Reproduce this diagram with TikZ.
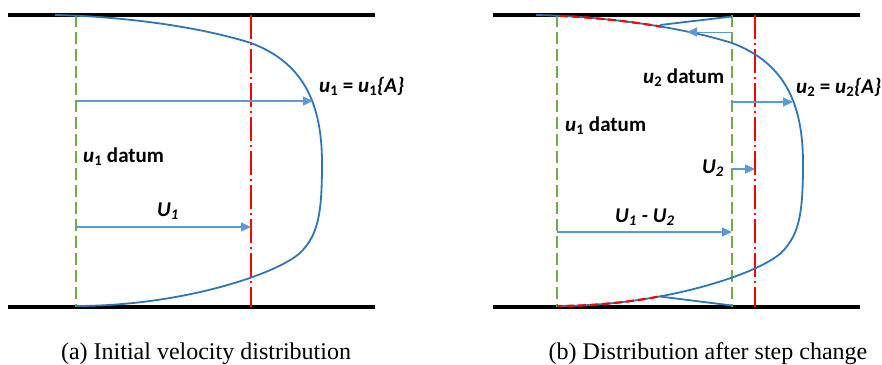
\documentclass[tikz,border=0pt]{standalone}
\usepackage{fontspec}
\setmainfont{Liberation Serif}
\newfontfamily\calibri{Carlito}
\usetikzlibrary{arrows.meta}
\definecolor{curveblue}{RGB}{46,117,182}
\definecolor{arrowblue}{RGB}{91,155,213}
\definecolor{datumgreen}{RGB}{112,173,71}
\definecolor{meanred}{RGB}{255,0,0}
\definecolor{inkdark}{RGB}{0,0,0}

\begin{document}
\begin{tikzpicture}[x=1pt,y=-1pt,
      wall/.style={draw=inkdark,line width=3.8pt},
      datum/.style={draw=datumgreen,line width=1.3pt,dash pattern=on 12pt off 5pt},
      mean/.style={draw=meanred,line width=1.8pt,dash pattern=on 24pt off 4pt on 2pt off 4pt},
      prof/.style={draw=curveblue,line width=1.8pt},
      redprof/.style={draw=meanred,line width=2.2pt,dash pattern=on 8pt off 4pt},
      a/.style={-{Triangle[length=10pt,width=9pt]},draw=arrowblue,line width=1.3pt},
      lab/.style={font=\calibri\bfseries\fontsize{21}{24}\selectfont,anchor=base west,inner sep=0pt},
      captext/.style={font=\fontsize{24}{27}\selectfont,anchor=base,inner sep=0pt}]
    \useasboundingbox (0,0) rectangle (882,364);
    % (a) initial velocity distribution
    \draw[wall] (8,15) -- (375,15);
    \draw[wall] (8,307) -- (375,307);
    \draw[datum] (76,15) -- (76,307);
    \draw[mean] (251,15) -- (251,307);
    \draw[prof] (55,15) .. controls (110,16) and (190,24) .. (251,43)
      .. controls (301,62) and (322,100) .. (322,163)
      .. controls (322,215) and (318,235) .. (300,253)
      .. controls (275,275) and (180,306) .. (76,306);
    \coordinate (d1a) at (76,101);  \coordinate (pa) at (313,101);
    \coordinate (d1b) at (76,227);  \coordinate (ma) at (251,227);
    \draw[a] (d1a) -- (pa);
    \draw[a] (d1b) -- (ma);
    \node[lab] (ua) at (319,92) {\textit{u}\textsubscript{1} = \textit{u}\textsubscript{1}\textit{\{A\}}};
    \node[lab] (dta) at (83,162) {\textit{u}\textsubscript{1} datum};
    \node[lab] (Ua) at (157,216) {\textit{U\textsubscript{1}}};
    \node[captext] (capa) at (206,359) {(a) Initial velocity distribution};
    % (b) distribution after step change
    \draw[wall] (493,15) -- (860,15);
    \draw[wall] (493,307) -- (860,307);
    \draw[datum] (557,15) -- (557,307);
    \draw[datum] (732,15) -- (732,307);
    \draw[mean] (755,15) -- (755,307);
    \draw[prof] (536,15) .. controls (591,16) and (671,24) .. (732,43)
      .. controls (782,62) and (803,100) .. (803,163)
      .. controls (803,215) and (799,235) .. (781,253)
      .. controls (756,275) and (661,306) .. (557,306);
    % old profile near the walls
    \begin{scope}
      \clip (557,0) rectangle (661,364);
      \draw[redprof] (536,15) .. controls (591,16) and (671,24) .. (732,43)
        .. controls (782,62) and (803,100) .. (803,163)
        .. controls (803,215) and (799,235) .. (781,253)
        .. controls (756,275) and (661,306) .. (557,306);
    \end{scope}
    \coordinate (nt) at (660,25);    \coordinate (wt) at (732,16.5);
    \coordinate (nb) at (660,296.5); \coordinate (wb) at (732,305.5);
    \draw[prof] (nt) -- (wt);
    \draw[prof] (nb) -- (wb);
    \coordinate (d2a) at (732,32);   \coordinate (bk) at (687,32);
    \coordinate (d2b) at (732,102);  \coordinate (pb) at (793,102);
    \coordinate (d2c) at (732,169);  \coordinate (mb) at (755,169);
    \coordinate (d1c) at (557,232);  \coordinate (d2d) at (732,232);
    \draw[a,line width=1pt] (d2a) -- (bk);
    \draw[a] (d2b) -- (pb);
    \draw[a] (d2c) -- (mb);
    \draw[a] (d1c) -- (d2d);
    \node[lab] (dtb2) at (643,83) {\textit{u}\textsubscript{2} datum};
    \node[lab] (ub) at (796,93) {\textit{u}\textsubscript{2} = \textit{u}\textsubscript{2}\textit{\{A\}}};
    \node[lab] (dtb1) at (565,131) {\textit{u}\textsubscript{1} datum};
    \node[lab] (Ub) at (702,173) {\textit{U\textsubscript{2}}};
    \node[lab] (Udiff) at (615,222) {\textit{U\textsubscript{1} - U\textsubscript{2}}};
    \node[captext] (capb) at (708,359) {(b) Distribution after step change};
\end{tikzpicture}
\end{document}
